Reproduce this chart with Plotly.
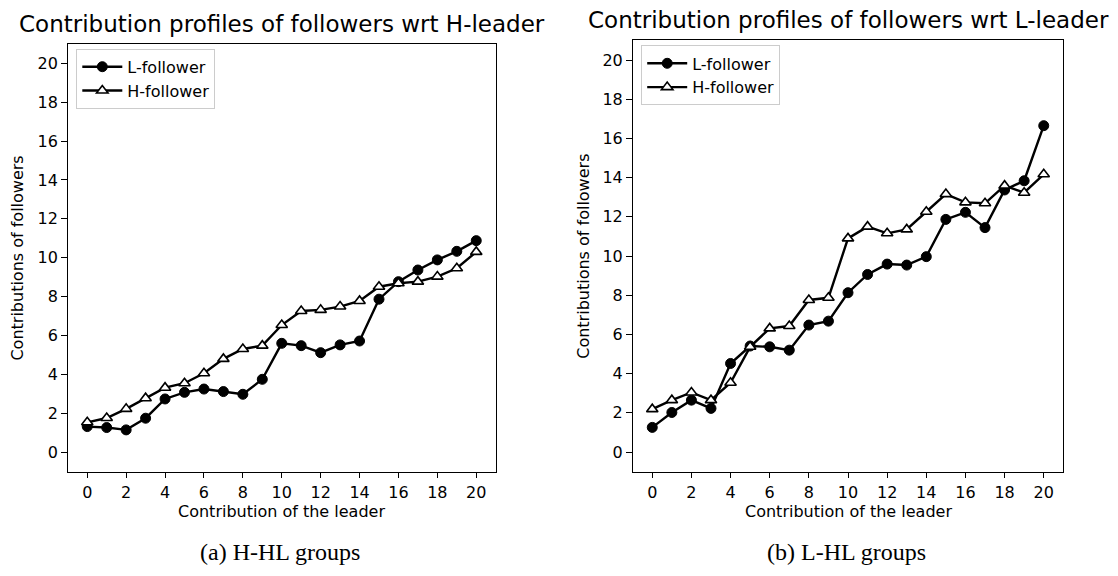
import plotly.graph_objects as go

W, H = 1118, 576

# Contribution of the leader (x axis for both panels)
leader = list(range(21))

# (a) H-HL groups: follower contributions against the H-leader
hhl_l_follower = [1.32, 1.27, 1.15, 1.75, 2.74, 3.08, 3.25, 3.12, 2.98, 3.75, 5.60,
                  5.48, 5.12, 5.52, 5.72, 7.87, 8.77, 9.37, 9.89, 10.33, 10.88]
hhl_h_follower = [1.54, 1.76, 2.23, 2.78, 3.32, 3.55, 4.06, 4.80, 5.31, 5.48, 6.54,
                  7.26, 7.32, 7.49, 7.78, 8.51, 8.69, 8.77, 9.03, 9.46, 10.30]

# (b) L-HL groups: follower contributions against the L-leader
lhl_l_follower = [1.26, 2.02, 2.65, 2.23, 4.52, 5.41, 5.37, 5.20, 6.48, 6.68, 8.13,
                  9.06, 9.59, 9.54, 9.97, 11.87, 12.23, 11.45, 13.37, 13.84, 16.65]
lhl_h_follower = [2.19, 2.65, 3.04, 2.65, 3.54, 5.37, 6.31, 6.43, 7.76, 7.87, 10.90,
                  11.50, 11.16, 11.36, 12.26, 13.16, 12.74, 12.69, 13.59, 13.23, 14.17]

xticks = list(range(0, 21, 2))
yticks = list(range(0, 21, 2))

titles = ["Contribution profiles of followers wrt H-leader",
          "Contribution profiles of followers wrt L-leader"]
captions = ["(a) H-HL groups", "(b) L-HL groups"]
x_label = "Contribution of the leader"
y_label = "Contributions of followers"

SANS = "DejaVu Sans"
SERIF = "Liberation Serif"


def px_x(p):
    return p / W


def px_y(p):
    return 1 - p / H


# panel boxes in pixels: (left, right, top, bottom)
panels = [(67.8, 495.7, 43.8, 471.7), (632.7, 1063.3, 40.4, 471.7)]

fig = go.Figure()

series = [
    (hhl_l_follower, hhl_h_follower, "x", "y", "legend"),
    (lhl_l_follower, lhl_h_follower, "x2", "y2", "legend2"),
]

for lf, hf, xa, ya, lg in series:
    fig.add_trace(go.Scatter(
        x=leader, y=lf, mode="lines+markers", name="L-follower",
        xaxis=xa, yaxis=ya, legend=lg, legendgroup=lg + "a",
        line=dict(color="black", width=2.4),
        marker=dict(symbol="circle", size=10, color="black",
                    line=dict(color="black", width=1)),
    ))
    fig.add_trace(go.Scatter(
        x=leader, y=hf, mode="lines+markers", name="H-follower",
        xaxis=xa, yaxis=ya, legend=lg, legendgroup=lg + "b",
        line=dict(color="black", width=2.4),
        marker=dict(symbol="triangle-up", size=10, color="white",
                    line=dict(color="black", width=1.6)),
    ))

axis_common = dict(
    range=[-1, 21], showgrid=False, zeroline=False,
    showline=True, linecolor="black", linewidth=1.3, mirror=True,
    ticks="outside", ticklen=5.6, tickwidth=1.3, tickcolor="black",
    tickfont=dict(family=SANS, size=16, color="black"),
)

layout = dict(
    width=W, height=H,
    margin=dict(l=0, r=0, t=0, b=0),
    paper_bgcolor="white", plot_bgcolor="white",
    showlegend=True,
)

for i, (l, r, t, b) in enumerate(panels):
    sfx = "" if i == 0 else str(i + 1)
    layout["xaxis" + sfx] = dict(axis_common, domain=[px_x(l), px_x(r)],
                                 tickvals=xticks, anchor="y" + sfx)
    layout["yaxis" + sfx] = dict(axis_common, domain=[px_y(b), px_y(t)],
                                 tickvals=yticks, anchor="x" + sfx)
    layout["legend" if i == 0 else "legend2"] = dict(
        x=px_x(l + 8.5), y=px_y(t + 5), xanchor="left", yanchor="top",
        bgcolor="rgba(255,255,255,0.8)", bordercolor="#cccccc", borderwidth=1,
        font=dict(family=SANS, size=16, color="black"),
        tracegroupgap=0, traceorder="grouped", itemwidth=40,
    )

fig.update_layout(**layout)

annotations = []
for i, (l, r, t, b) in enumerate(panels):
    cx = (l + r) / 2
    cy = (t + b) / 2
    annotations.append(dict(
        text=titles[i], x=px_x(cx), y=px_y(t - 20), xref="paper", yref="paper",
        xanchor="center", yanchor="middle", showarrow=False,
        font=dict(family=SANS, size=23, color="black"),
    ))
    annotations.append(dict(
        text=x_label, x=px_x(cx), y=px_y(511.7), xref="paper", yref="paper",
        xanchor="center", yanchor="middle", showarrow=False,
        font=dict(family=SANS, size=16, color="black"),
    ))
    annotations.append(dict(
        text=y_label, x=px_x(l - 50), y=px_y(cy), xref="paper", yref="paper",
        xanchor="center", yanchor="middle", showarrow=False, textangle=-90,
        font=dict(family=SANS, size=16, color="black"),
    ))
    annotations.append(dict(
        text=captions[i], x=px_x(cx - 2), y=px_y(552), xref="paper", yref="paper",
        xanchor="center", yanchor="middle", showarrow=False,
        font=dict(family=SERIF, size=24, color="black"),
    ))

fig.update_layout(annotations=annotations)

fig.write_html("out.html")
